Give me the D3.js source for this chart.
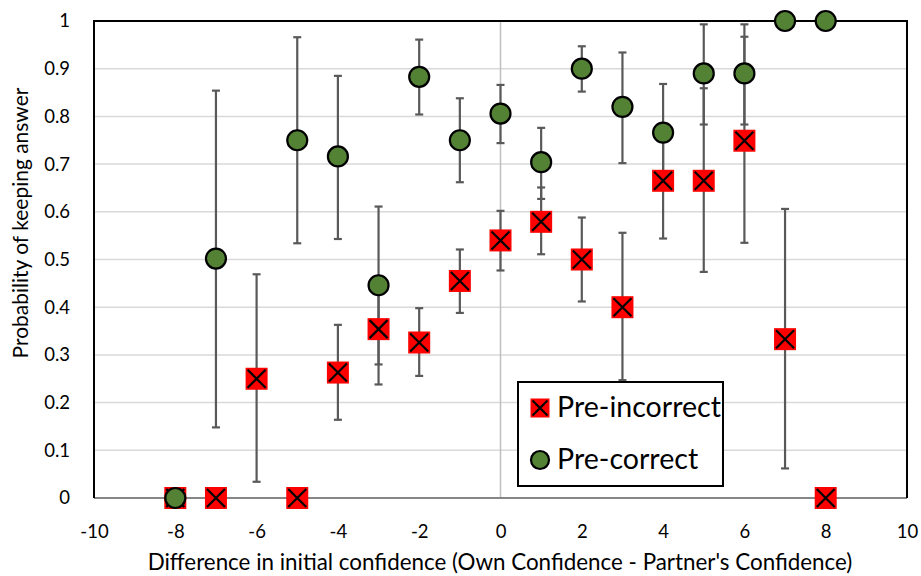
<!DOCTYPE html>
<html>
<head>
<meta charset="utf-8">
<script src="https://cdn.jsdelivr.net/npm/d3@7"></script>
<style>
  body { margin: 0; background: #fff; }
  text { font-family: Lato, "Open Sans", sans-serif; fill: #000; }
</style>
</head>
<body>
<svg id="chart" width="921" height="576"></svg>
<script>
// Data.
const xValues = [-8, -7, -6, -5, -4, -3, -2, -1, 0, 1, 2, 3, 4, 5, 6, 7, 8];

// Pre-correct (green circles), null where no point.
const correctY    = [0, 0.502, null, 0.75, 0.716, 0.446, 0.883, 0.75, 0.806, 0.704, 0.9, 0.82, 0.766, 0.89, 0.89, 1, 1];
const correctLow  = [null, 0.148, null, 0.534, 0.543, 0.28, 0.804, 0.662, 0.744, 0.627, 0.852, 0.702, 0.68, 0.783, 0.783, null, null];
const correctHigh = [null, 0.854, null, 0.966, 0.885, 0.611, 0.961, 0.838, 0.866, 0.776, 0.947, 0.934, 0.868, 0.993, 0.993, null, null];

// Pre-incorrect (red crossed squares).
const incorrectY    = [0, 0, 0.25, 0, 0.263, 0.354, 0.326, 0.455, 0.54, 0.579, 0.5, 0.4, 0.665, 0.665, 0.749, 0.333, 0];
const incorrectLow  = [null, null, 0.034, null, 0.164, 0.238, 0.256, 0.388, 0.477, 0.511, 0.412, 0.247, 0.544, 0.474, 0.535, 0.062, null];
const incorrectHigh = [null, null, 0.469, null, 0.363, 0.45, 0.398, 0.521, 0.602, 0.651, 0.588, 0.556, 0.75, 0.859, 0.967, 0.606, null];

const xTicks = [-10, -8, -6, -4, -2, 0, 2, 4, 6, 8, 10];
const xTickLabels = ['-10', '-8', '-6', '-4', '-2', '0', '2', '4', '6', '8', '10'];
const yTicks = [0, 0.1, 0.2, 0.3, 0.4, 0.5, 0.6, 0.7, 0.8, 0.9, 1];
const yTickLabels = ['0', '0.1', '0.2', '0.3', '0.4', '0.5', '0.6', '0.7', '0.8', '0.9', '1'];
const seriesNames = ['Pre-incorrect', 'Pre-correct'];

const svg = d3.select('#chart');
const plotLeft = 94, plotRight = 907, plotTop = 21, plotBottom = 498;

const x = d3.scaleLinear().domain([-10, 10]).range([plotLeft, plotRight]);
const y = d3.scaleLinear().domain([0, 1]).range([plotBottom, plotTop]);

// Gridlines
svg.append('g').selectAll('line')
    .data(yTicks.filter(d => d > 0 && d < 1))
    .join('line')
    .attr('x1', plotLeft).attr('x2', plotRight)
    .attr('y1', d => y(d)).attr('y2', d => y(d))
    .attr('stroke', '#d9d9d9').attr('stroke-width', 1.5);

// Vertical line at x = 0
svg.append('line')
    .attr('x1', x(0)).attr('x2', x(0))
    .attr('y1', plotTop).attr('y2', plotBottom)
    .attr('stroke', '#bfbfbf').attr('stroke-width', 1.5);

// Bottom axis line
svg.append('line')
    .attr('x1', plotLeft).attr('x2', plotRight)
    .attr('y1', plotBottom).attr('y2', plotBottom)
    .attr('stroke', '#868686').attr('stroke-width', 2);

// Plot border (left, top, right)
svg.append('path')
    .attr('d', `M${plotLeft},${plotBottom}V${plotTop}H${plotRight}V${plotBottom}`)
    .attr('fill', 'none').attr('stroke', '#000').attr('stroke-width', 2);

// Axes
const xAxis = svg.append('g')
    .attr('transform', `translate(0,${plotBottom})`)
    .call(d3.axisBottom(x).tickValues(xTicks).tickSize(0).tickPadding(27)
        .tickFormat((d, i) => xTickLabels[i]));
const yAxis = svg.append('g')
    .attr('transform', `translate(${plotLeft},0)`)
    .call(d3.axisLeft(y).tickValues(yTicks).tickSize(0).tickPadding(24)
        .tickFormat((d, i) => yTickLabels[i]));
[xAxis, yAxis].forEach(g => {
    g.select('.domain').remove();
    g.selectAll('text').attr('font-size', 18.5).attr('font-family', 'Lato, "Open Sans", sans-serif').attr('fill', '#000');
});

// Fit text to a target width.
function fitText(sel, width) {
    let len = sel.node().getComputedTextLength();
    let size = parseFloat(sel.attr('font-size'));
    sel.attr('font-size', size * width / len);
}

// Axis titles
let xTitle = svg.append('text')
    .attr('x', 500).attr('y', 570)
    .attr('text-anchor', 'middle')
    .attr('font-size', 18)
    .text("Difference in initial confidence (Own Confidence - Partner's Confidence)");
fitText(xTitle, 705);

let yTitle = svg.append('text')
    .attr('transform', 'translate(28,223) rotate(-90)')
    .attr('text-anchor', 'middle')
    .attr('font-size', 17)
    .text('Probability of keeping answer');
fitText(yTitle, 271);

// Build point rows from the arrays
function rows(ys, lows, highs) {
    return xValues.map((xv, i) => ({x: xv, y: ys[i], lo: lows[i], hi: highs[i]}))
        .filter(d => d.y !== null);
}
const incorrectRows = rows(incorrectY, incorrectLow, incorrectHigh);
const correctRows = rows(correctY, correctLow, correctHigh);

// Error bars
const errColor = '#595959';
const capW = 4;
function drawErrors(data) {
    let g = svg.append('g');
    let withErr = data.filter(d => d.lo !== null);
    g.selectAll('line.bar').data(withErr).join('line')
        .attr('class', 'bar')
        .attr('x1', d => x(d.x)).attr('x2', d => x(d.x))
        .attr('y1', d => y(d.lo)).attr('y2', d => y(d.hi))
        .attr('stroke', errColor).attr('stroke-width', 2.2);
    ['lo', 'hi'].forEach(k => {
        g.selectAll('line.cap-' + k).data(withErr).join('line')
            .attr('class', 'cap-' + k)
            .attr('x1', d => x(d.x) - capW).attr('x2', d => x(d.x) + capW)
            .attr('y1', d => y(d[k])).attr('y2', d => y(d[k]))
            .attr('stroke', errColor).attr('stroke-width', 2.2);
    });
}
drawErrors(incorrectRows);
drawErrors(correctRows);

// Marker drawing helpers
function crossSquare(g, cx, cy, s) {
    g.append('rect')
        .attr('x', cx - s / 2).attr('y', cy - s / 2)
        .attr('width', s).attr('height', s)
        .attr('fill', '#ff0000');
    let k = s / 2 - 2;
    g.append('path')
        .attr('d', `M${cx - k},${cy - k}L${cx + k},${cy + k}M${cx + k},${cy - k}L${cx - k},${cy + k}`)
        .attr('stroke', '#000').attr('stroke-width', 2.2);
}
function greenDot(g, cx, cy, r) {
    g.append('circle')
        .attr('cx', cx).attr('cy', cy).attr('r', r)
        .attr('fill', '#548235')
        .attr('stroke', '#000').attr('stroke-width', 2.2);
}

let gRed = svg.append('g');
incorrectRows.forEach(d => crossSquare(gRed, x(d.x), y(d.y), 22));
let gGreen = svg.append('g');
correctRows.forEach(d => greenDot(gGreen, x(d.x), y(d.y), 10));

// Legend
let legend = svg.append('g');
legend.append('rect')
    .attr('x', 518).attr('y', 382).attr('width', 205).attr('height', 104)
    .attr('fill', '#fff').attr('stroke', '#000').attr('stroke-width', 2);
crossSquare(legend, 540, 408, 19);
greenDot(legend, 540, 460, 9);
let l1 = legend.append('text')
    .attr('x', 557).attr('y', 417).attr('font-size', 25)
    .text(seriesNames[0]);
fitText(l1, 164);
let l2 = legend.append('text')
    .attr('x', 557).attr('y', 469).attr('font-size', 25)
    .text(seriesNames[1]);
l2.attr('font-size', l1.attr('font-size'));
</script>
</body>
</html>
